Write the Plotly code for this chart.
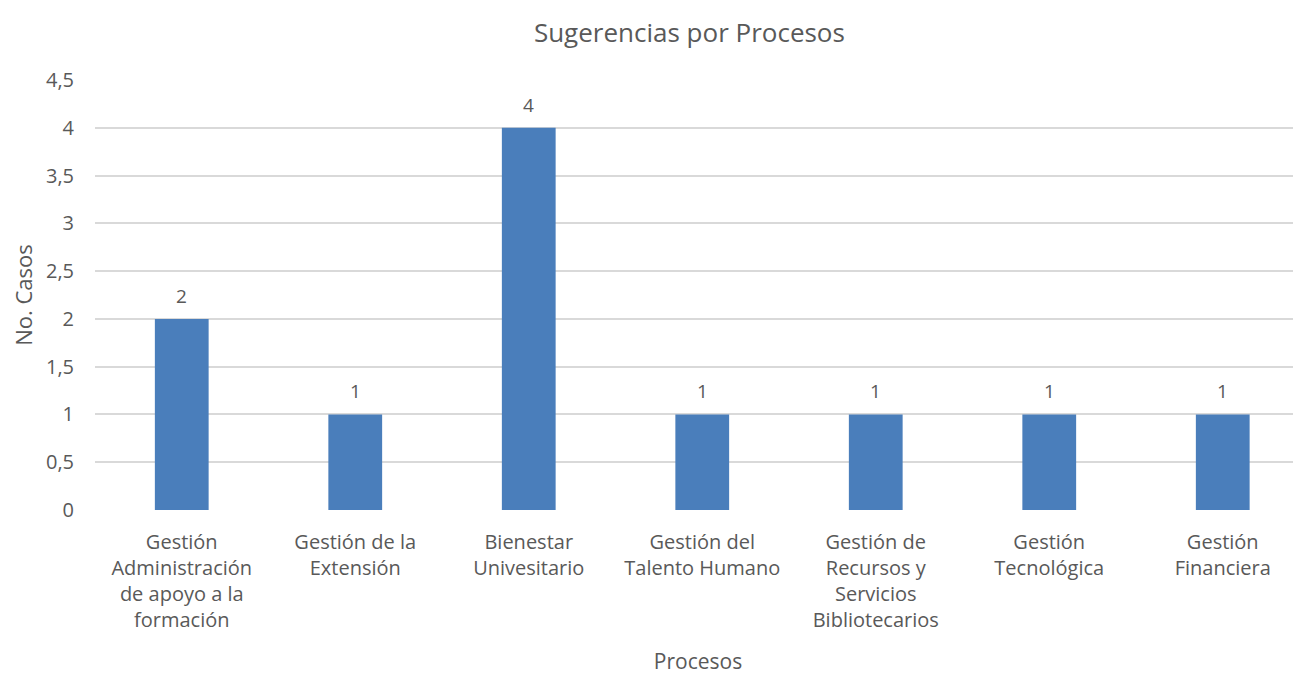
import plotly.graph_objects as go

categories = [
    "Gestión<br>Administración<br>de apoyo a la<br>formación",
    "Gestión de la<br>Extensión",
    "Bienestar<br>Univesitario",
    "Gestión del<br>Talento Humano",
    "Gestión de<br>Recursos y<br>Servicios<br>Bibliotecarios",
    "Gestión<br>Tecnológica",
    "Gestión<br>Financiera",
]
values = [2, 1, 4, 1, 1, 1, 1]
y_ticks = [0, 0.5, 1, 1.5, 2, 2.5, 3, 3.5, 4, 4.5]
y_tick_labels = ["0", "0,5", "1", "1,5", "2", "2,5", "3", "3,5", "4", "4,5"]

FONT = "Open Sans"
GREY = "#595959"
xs = list(range(len(categories)))

fig = go.Figure(go.Bar(
    x=xs,
    y=values,
    marker=dict(color="#4a7ebb", line=dict(width=0)),
    hoverinfo="x+y",
))

for xi, v in zip(xs, values):
    fig.add_annotation(x=xi, y=v, text=str(v), showarrow=False,
                       xref="x", yref="y", yanchor="middle", yshift=23,
                       font=dict(family=FONT, size=19, color=GREY))

fig.update_layout(
    width=1293, height=667,
    paper_bgcolor="white", plot_bgcolor="white",
    margin=dict(l=87, r=0, t=72, b=165, pad=0),
    bargap=0.69,
    showlegend=False,
    title=dict(text="Sugerencias por Procesos", x=0.527, xanchor="center",
               y=0.9625, yanchor="middle",
               font=dict(family=FONT, size=26, color=GREY)),
    font=dict(family=FONT, size=20, color=GREY),
)
fig.update_xaxes(
    tickmode="array", tickvals=xs, ticktext=categories,
    range=[-0.5, 6.451], showgrid=False, zeroline=False, showline=False,
    ticks="", tickangle=0, automargin=False, ticklabelstandoff=18,
    tickfont=dict(family=FONT, size=20, color=GREY),
    title=dict(text="Procesos", font=dict(family=FONT, size=21, color=GREY), standoff=22),
)
fig.update_yaxes(
    range=[0, 4.5], tickmode="array", tickvals=y_ticks, ticktext=y_tick_labels,
    showgrid=True, gridcolor="#d9d9d9", gridwidth=1.5, zeroline=False,
    showline=False, ticks="", ticklabelstandoff=20, automargin=False,
    tickfont=dict(family=FONT, size=20, color=GREY),
    title=dict(text="No. Casos", font=dict(family=FONT, size=22, color=GREY), standoff=12),
)

fig.write_html("out.html")
